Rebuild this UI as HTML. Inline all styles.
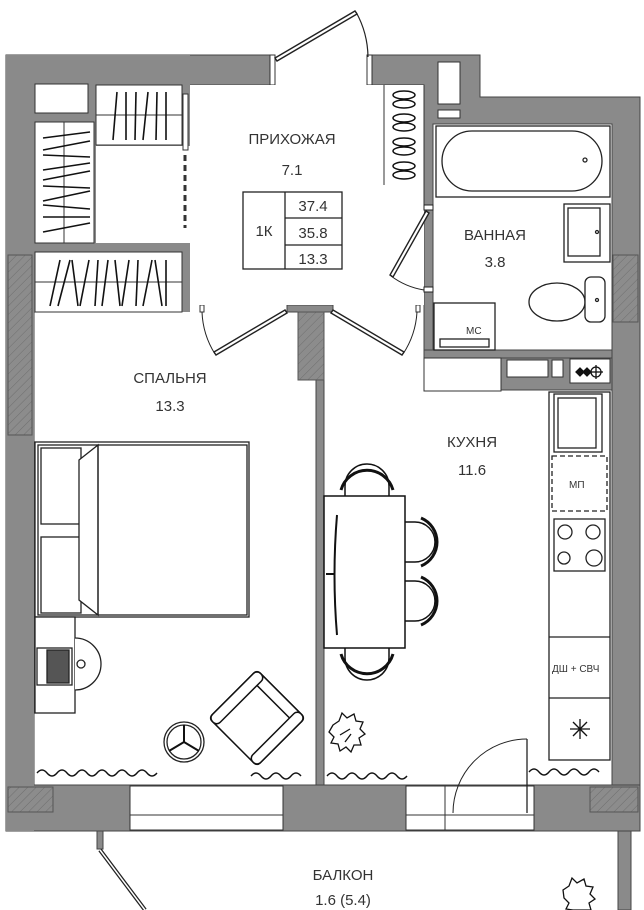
<!DOCTYPE html>
<html><head><meta charset="utf-8"><style>
html,body{margin:0;padding:0;background:#fff;}
svg{display:block}
text{font-family:"Liberation Sans","DejaVu Sans",sans-serif;fill:#333;}
</style></head><body>
<svg width="644" height="910" viewBox="0 0 644 910" xmlns="http://www.w3.org/2000/svg">
<defs>
<pattern id="h" width="6" height="6" patternUnits="userSpaceOnUse" patternTransform="rotate(45)">
<rect width="6" height="6" fill="#8c8c8c"/><line x1="0" y1="0" x2="0" y2="6" stroke="#6e6e6e" stroke-width="1"/>
</pattern>
</defs>
<g fill="#8a8a8a" stroke="#444" stroke-width="1">
<!-- left wardrobe gray region -->
<rect x="6" y="55" width="184" height="257" stroke="none"/>
<!-- top left wall -->
<rect x="6" y="55" width="264" height="30"/>
<!-- left wall -->
<rect x="6" y="55" width="28" height="776"/>
<!-- top right -->
<path d="M372 55 H480 V97 H640 V831 H612 V124 H433 V350 H424 V85 H372 Z"/>
<!-- bottom wall -->
<rect x="6" y="785" width="634" height="46"/>
<!-- inner wall -->
<rect x="316" y="312" width="8" height="473"/>
<rect x="287" y="305" width="46" height="7"/>
<!-- bath bottom wall -->
<rect x="424" y="350" width="188" height="8"/>
<rect x="501" y="358" width="111" height="32"/>
</g>
<rect x="6" y="55" width="184" height="257" fill="#8a8a8a"/>
<rect x="6" y="55" width="28" height="776" fill="#8a8a8a"/>
<!-- hatches -->
<rect x="8" y="255" width="24" height="180" fill="url(#h)" stroke="#555"/>
<rect x="613" y="255" width="25" height="67" fill="url(#h)" stroke="#555"/>
<rect x="8" y="787" width="45" height="25" fill="url(#h)" stroke="#555"/>
<rect x="590" y="787" width="48" height="25" fill="url(#h)" stroke="#555"/>
<rect x="298" y="312" width="26" height="68" fill="url(#h)" stroke="#555"/>
<!-- post whites -->
<g fill="#fff" stroke="#333" stroke-width="1">
<rect x="270" y="55" width="5" height="30"/>
<rect x="367" y="55" width="5" height="30"/>
<rect x="200" y="305" width="4" height="7"/>
<rect x="416" y="305" width="4" height="7"/>
<!-- wardrobes -->
<rect x="35" y="84" width="53" height="29"/>
<rect x="96" y="85" width="86" height="60"/>
<rect x="96" y="146" width="94" height="97" stroke="none"/>
<rect x="35" y="122" width="59" height="121"/>
<rect x="35" y="252" width="147" height="60"/>
<!-- shaft boxes -->
<rect x="438" y="62" width="22" height="42"/>
<rect x="438" y="110" width="22" height="8"/>
<!-- shoe rack -->
<rect x="384" y="85" width="40" height="100"/>
<!-- kitchen top boxes -->
<rect x="424" y="358" width="77" height="33"/>
<rect x="507" y="360" width="41" height="17"/>
<rect x="552" y="360" width="11" height="17"/>
<rect x="570" y="359" width="40" height="24"/>
<!-- windows -->
<rect x="130" y="786" width="153" height="44"/>
<rect x="406" y="786" width="128" height="44"/>
</g>
<!-- hall floor white over gray -->
<rect x="190" y="85" width="234" height="220" fill="#fff"/>
<rect x="372" y="85" width="12" height="100" fill="#fff"/>
<line x1="384" y1="85" x2="384" y2="185" stroke="#333"/>
<line x1="424" y1="85" x2="424" y2="210" stroke="#333"/>
<g stroke="#333" fill="none" stroke-width="1">
<line x1="64" y1="122" x2="64" y2="243"/>
<line x1="96" y1="115" x2="182" y2="115"/>
<line x1="35" y1="282" x2="182" y2="282"/>
<line x1="130" y1="815" x2="283" y2="815"/>
<line x1="406" y1="815" x2="534" y2="815"/>
<line x1="445" y1="786" x2="445" y2="830"/>
</g>
<!-- hangers -->
<g stroke="#111" stroke-width="1.6">
<line x1="117" y1="92" x2="113" y2="140"/><line x1="126" y1="92" x2="126" y2="140"/><line x1="136" y1="92" x2="135" y2="140"/><line x1="148" y1="92" x2="143" y2="140"/><line x1="157" y1="92" x2="156" y2="140"/><line x1="166" y1="92" x2="166" y2="140"/>
<line x1="43" y1="138" x2="90" y2="132"/><line x1="43" y1="150" x2="90" y2="141"/><line x1="43" y1="155" x2="90" y2="157"/><line x1="43" y1="170" x2="90" y2="163"/><line x1="43" y1="180" x2="90" y2="171"/><line x1="43" y1="186" x2="90" y2="188"/><line x1="43" y1="201" x2="90" y2="191"/><line x1="43" y1="205" x2="90" y2="209"/><line x1="43" y1="217" x2="90" y2="217"/><line x1="43" y1="232" x2="90" y2="223"/>
<line x1="60" y1="260" x2="50" y2="306"/><line x1="70" y1="260" x2="58" y2="306"/><line x1="72" y1="260" x2="78" y2="306"/><line x1="89" y1="260" x2="80" y2="306"/><line x1="98" y1="260" x2="95" y2="306"/><line x1="108" y1="260" x2="102" y2="306"/><line x1="115" y1="260" x2="120" y2="306"/><line x1="129" y1="260" x2="122" y2="306"/><line x1="138" y1="260" x2="136" y2="306"/><line x1="152" y1="260" x2="143" y2="306"/><line x1="155" y1="260" x2="162" y2="306"/><line x1="166" y1="260" x2="166" y2="306"/>
</g>
<!-- sliding door dashed -->
<rect x="183" y="94" width="5" height="56" fill="#fff" stroke="#333"/>
<line x1="185" y1="155" x2="185" y2="228" stroke="#333" stroke-width="3" stroke-dasharray="6,4"/>
<!-- shoes -->
<g fill="none" stroke="#111" stroke-width="1.5">
<ellipse cx="404" cy="95" rx="11" ry="4"/><ellipse cx="404" cy="104" rx="11" ry="4"/>
<ellipse cx="404" cy="118" rx="11" ry="4"/><ellipse cx="404" cy="127" rx="11" ry="4"/>
<ellipse cx="404" cy="142" rx="11" ry="4"/><ellipse cx="404" cy="151" rx="11" ry="4"/>
<ellipse cx="404" cy="166" rx="11" ry="4"/><ellipse cx="404" cy="175" rx="11" ry="4"/>
</g>
<!-- entrance door -->
<g stroke="#222" fill="none">
<path d="M275 58 L355 11 L357 14 L277 61 Z" fill="#fff" stroke-width="1.4"/>
<path d="M356 12 A95 95 0 0 1 368 57" stroke-width="1.2"/>
<!-- bedroom door -->
<path d="M285 310 L214 352 L216 355 L287 313 Z" fill="#fff" stroke-width="1.4"/>
<path d="M215 354 A85 85 0 0 1 202 312"/>
<path d="M333 310 L404 352 L402 355 L331 313 Z" fill="#fff" stroke-width="1.4"/>
<path d="M403 354 A85 85 0 0 0 417 312"/>
<!-- bath door -->
<rect x="424" y="205" width="9" height="5" fill="#fff"/>
<rect x="424" y="287" width="9" height="5" fill="#fff"/>
<path d="M426 211 L390 275 L393 277 L429 213 Z" fill="#fff" stroke-width="1.4"/>
<path d="M391 276 A75 75 0 0 0 424 290"/>
<!-- kitchen door -->
<line x1="527" y1="739" x2="527" y2="813" stroke-width="1.3"/>
<path d="M527 739 A74 74 0 0 0 453 813"/>
</g>
<!-- bathroom fixtures -->
<g fill="#fff" stroke="#222" stroke-width="1.3">
<rect x="436" y="126" width="174" height="71"/>
<rect x="442" y="131" width="160" height="60" rx="30"/>
<rect x="564" y="204" width="46" height="58"/>
<rect x="568" y="208" width="32" height="48"/>
<ellipse cx="557" cy="302" rx="28" ry="19"/>
<rect x="585" y="277" width="20" height="45" rx="6"/>
<rect x="434" y="303" width="61" height="47"/>
<rect x="440" y="339" width="49" height="8"/>
<circle cx="585" cy="160" r="2"/><circle cx="597" cy="232" r="1.5"/><circle cx="597" cy="300" r="1.5"/>
</g>
<text x="466" y="334" font-size="10">МС</text>
<g fill="none" stroke="#111" stroke-width="1.3">
<circle cx="596" cy="372" r="5"/><line x1="589" y1="372" x2="603" y2="372"/><line x1="596" y1="365" x2="596" y2="379"/>
<path d="M576 372 l4 -4 l4 4 l-4 4 z M583 372 l4 -4 l4 4 l-4 4 z" fill="#111"/>
</g>
<!-- kitchen counter -->
<g fill="#fff" stroke="#222" stroke-width="1.3">
<rect x="549" y="392" width="61" height="368"/>
<rect x="554" y="394" width="48" height="58"/>
<rect x="558" y="398" width="38" height="50"/>
<rect x="552" y="456" width="55" height="55" stroke-dasharray="5,3"/>
<rect x="554" y="519" width="51" height="52"/>
<circle cx="565" cy="532" r="7"/><circle cx="593" cy="532" r="7"/><circle cx="564" cy="558" r="6"/><circle cx="594" cy="558" r="8"/>
<line x1="549" y1="637" x2="610" y2="637"/><line x1="549" y1="698" x2="610" y2="698"/>
</g>
<text x="569" y="488" font-size="10">МП</text>
<text x="552" y="672" font-size="10">ДШ + СВЧ</text>
<g stroke="#111" stroke-width="1.3"><line x1="570" y1="729" x2="590" y2="729"/><line x1="580" y1="719" x2="580" y2="739"/><line x1="573" y1="722" x2="587" y2="736"/><line x1="587" y1="722" x2="573" y2="736"/></g>
<!-- table & chairs -->
<g fill="none" stroke="#111" stroke-width="1.5">
<path d="M345 496 v-10 a22 22 0 0 1 44 0 v10"/><path d="M341 490 a27 27 0 0 1 52 0" stroke-width="3"/>
<path d="M345 648 v10 a22 22 0 0 0 44 0 v-10"/><path d="M341 654 a27 27 0 0 0 52 0" stroke-width="3"/>
<path d="M405 522 h10 a20 20 0 0 1 0 40 h-10"/><path d="M421 518 a26 26 0 0 1 0 48" stroke-width="3"/>
<path d="M405 581 h10 a20 20 0 0 1 0 40 h-10"/><path d="M421 577 a26 26 0 0 1 0 48" stroke-width="3"/>
</g>
<rect x="324" y="496" width="81" height="152" fill="#fff" stroke="#111" stroke-width="1.5"/>
<path d="M337 515 q-5 60 0 120" fill="none" stroke="#111" stroke-width="2"/>
<line x1="326" y1="574" x2="334" y2="574" stroke="#111" stroke-width="2"/>
<!-- bed -->
<g fill="#fff" stroke="#222" stroke-width="1.3">
<rect x="35" y="442" width="214" height="175"/>
<rect x="38" y="445" width="209" height="170" fill="none"/>
<rect x="41" y="448" width="40" height="76"/>
<rect x="41" y="537" width="40" height="76"/>
<path d="M79 460 L98 445 L98 615 L79 600 Z"/>
<line x1="98" y1="445" x2="98" y2="615"/>
<!-- desk -->
<rect x="35" y="617" width="40" height="96"/>
<path d="M75 638 A26 26 0 0 1 75 690"/>
<circle cx="81" cy="664" r="4"/>
<rect x="37" y="648" width="35" height="37"/>
<rect x="47" y="650" width="22" height="33" fill="#555"/>
<!-- stool -->
<circle cx="184" cy="742" r="20"/><circle cx="184" cy="742" r="17" fill="none"/>
</g>
<g stroke="#111" stroke-width="2"><line x1="184" y1="742" x2="184" y2="725"/><line x1="184" y1="742" x2="169" y2="751"/><line x1="184" y1="742" x2="199" y2="751"/></g>
<!-- armchair -->
<g transform="translate(257,718) rotate(45)" fill="#fff" stroke="#111" stroke-width="1.5">
<rect x="-34" y="-34" width="68" height="68" rx="4"/>
<rect x="-34" y="-34" width="68" height="11" rx="5"/>
<rect x="-34" y="-34" width="11" height="68" rx="5"/>
<rect x="23" y="-34" width="11" height="68" rx="5" transform="translate(0,0)"/>
</g>
<!-- plants -->
<g fill="none" stroke="#111" stroke-width="1.3">
<path d="M333 725 l6 -4 l3 -8 l5 5 l7 -4 l2 7 l7 1 l-3 7 l5 5 l-6 4 l2 7 l-7 0 l-3 7 l-5 -5 l-6 4 l-2 -7 l-7 -1 l3 -6 l-5 -5 z"/>
<path d="M340 735 l10 -6 M345 742 l6 -8"/>
<path d="M563 890 l6 -4 l3 -8 l5 5 l7 -4 l2 7 l7 1 l-3 7 l5 5 l-6 4 l2 7 l-7 0 l-5 0 l-6 0 l-7 -1 l3 -6 l-5 -5 z"/>
</g>
<!-- wavy curtains -->
<g fill="none" stroke="#111" stroke-width="1.4">
<path d="M37 773 q5 -6 10 0 t10 0 t10 0 t10 0 t10 0 t10 0 t10 0 t10 0 t10 0 t10 0 t10 0 t10 0"/>
<path d="M251 776 q5 -6 10 0 t10 0 t10 0 t10 0 t10 0"/>
<path d="M327 776 q5 -6 10 0 t10 0 t10 0 t10 0 t10 0 t10 0 t10 0 t10 0"/>
<path d="M529 772 q5 -6 10 0 t10 0 t10 0 t10 0 t10 0 t10 0 t10 0"/>
</g>
<!-- balcony -->
<rect x="618" y="831" width="13" height="79" fill="#8a8a8a" stroke="#444"/>
<rect x="97" y="831" width="6" height="18" fill="#8a8a8a" stroke="#444"/>
<path d="M100 850 L145 910" stroke="#222" stroke-width="4" fill="none"/>
<path d="M100 850 L145 910" stroke="#fff" stroke-width="1.5" fill="none"/>
<!-- info box -->
<g fill="none" stroke="#222" stroke-width="1.3">
<rect x="243" y="192" width="99" height="77"/>
<line x1="285" y1="192" x2="285" y2="269"/>
<line x1="285" y1="218" x2="342" y2="218"/><line x1="285" y1="245" x2="342" y2="245"/>
</g>
<g font-size="15" text-anchor="middle">
<text x="264" y="236">1К</text>
<text x="313" y="211">37.4</text>
<text x="313" y="238">35.8</text>
<text x="313" y="264">13.3</text>
<text x="292" y="144">ПРИХОЖАЯ</text>
<text x="292" y="175">7.1</text>
<text x="495" y="240">ВАННАЯ</text>
<text x="495" y="267">3.8</text>
<text x="170" y="383">СПАЛЬНЯ</text>
<text x="170" y="411">13.3</text>
<text x="472" y="447">КУХНЯ</text>
<text x="472" y="475">11.6</text>
<text x="343" y="880">БАЛКОН</text>
<text x="343" y="905">1.6 (5.4)</text>
</g>
</svg>
</body></html>
